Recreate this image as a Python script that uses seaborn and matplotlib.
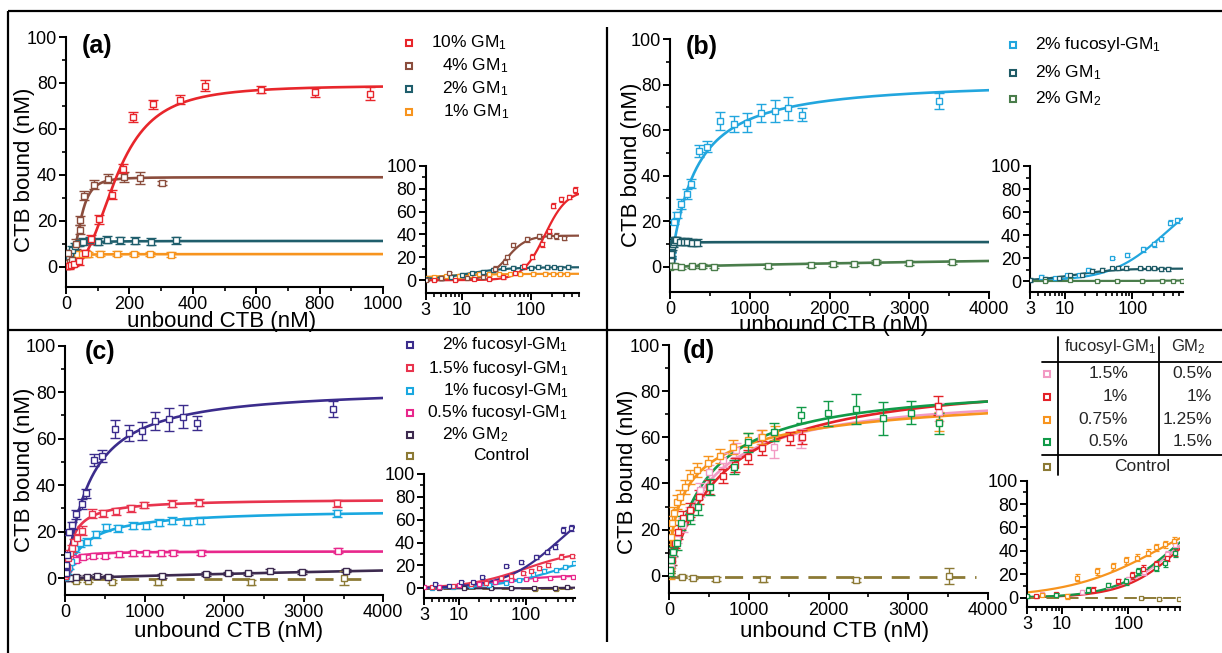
import numpy as np
import matplotlib
matplotlib.use("Agg")
import matplotlib.pyplot as plt
import seaborn as sns
from matplotlib.ticker import LogLocator, NullFormatter, FixedLocator, FixedFormatter

# ---------------- DATA ----------------
# Panel (a): GM1 series  (x = unbound CTB nM, y = CTB bound nM, e = error)
a_x_10 = [4, 8, 15, 25, 40, 60, 80, 104, 146, 181, 212, 274, 361, 438, 616, 786, 958]
a_y_10 = [0.5, 0.3, 0.8, 1.2, 2.5, 6, 12, 20.7, 31.4, 42.8, 65.2, 70.7, 72.8, 78.8, 77.1, 76.0, 75.4]
a_e_10 = [1, 1, 1, 1, 1.5, 1.5, 2, 2, 2, 2, 2, 2, 2, 2.5, 1.5, 2, 3]
a_x_4 = [3, 5, 6.6, 12, 20, 30, 43, 45, 56, 87, 131, 184, 232, 302]
a_y_4 = [0.5, 1.5, 6, 2, 3, 10, 16.2, 20.3, 30.9, 35.8, 38.4, 39.1, 38.7, 36.5]
a_e_4 = [1, 1, 1, 1, 1, 2, 2, 2, 2, 2, 2, 2, 2.5, 1]
a_x_2 = [3, 5, 7, 10, 14, 20, 28, 40, 55, 75, 100, 129, 171, 219, 268, 347]
a_y_2 = [1, 2, 3, 4.5, 6, 7.5, 9, 10.5, 11, 11.5, 11, 11.8, 11.5, 11.3, 11, 11.5]
a_e_2 = [1.5] * 16
a_x_1 = [3, 4, 6, 9, 13, 18, 25, 35, 50, 70, 108, 161, 213, 264, 331]
a_y_1 = [2, 2.5, 3.5, 4, 4.5, 5, 5, 5.5, 5.5, 5.5, 5.8, 5.8, 5.6, 5.6, 5.3]
a_e_1 = [1] * 15
# Hill fit parameters [Bmax, K, n]
a_fit_10 = [79, 160, 2.7]
a_fit_4 = [39, 45, 3.0]
a_fit_2 = [11.3, 12, 1.5]
a_fit_1 = [5.6, 3, 1.0]
a_labels = ["10% GM$_1$", "4% GM$_1$", "2% GM$_1$", "1% GM$_1$"]

# Panel (b)
b_x_fuc = [4.4, 7, 10.7, 16, 22, 50, 84, 142, 209, 267, 359, 468, 626, 802, 969, 1136, 1311, 1482, 1653, 3373]
b_y_fuc = [3.8, 2.3, 5.2, 5.5, 10, 19.7, 22.7, 27.5, 31.9, 36.5, 50.8, 52.7, 64.1, 62.5, 63.3, 67.6, 68.4, 69.5, 66.8, 72.9]
b_e_fuc = [1, 1, 1, 1, 1, 1, 1.5, 2, 2, 2, 2.5, 2.5, 4, 3.5, 4, 4, 5, 5, 3, 3.5]
b_x_gm1 = [3, 5, 8, 12, 18, 25, 35, 50, 62, 80, 130, 170, 210, 270, 342]
b_y_gm1 = [1, 2, 3, 5, 5.5, 9, 10, 11, 11.5, 11.5, 11, 11, 11, 10.5, 10.5]
b_e_gm1 = [1.5] * 15
b_x_gm2 = [5, 12, 30, 60, 138, 272, 405, 547, 1223, 1762, 2037, 2309, 2576, 2993, 3528]
b_y_gm2 = [0, 0.5, 0.3, 0.2, -0.3, 0.1, 0.4, 0.0, 0.4, 0.7, 1.2, 1.0, 2.0, 1.6, 1.9]
b_e_gm2 = [0.8] * 15
b_fit_fuc = [82, 300, 1.1]
b_fit_gm1 = [10.8, 14, 1.4]
b_fit_gm2 = [10, 12000, 1.0]
b_labels = ["2% fucosyl-GM$_1$", "2% GM$_1$", "2% GM$_2$"]

# Panel (c)
c_x_15 = [4, 8, 15, 25, 43, 59, 89, 118, 155, 210, 335, 482, 645, 829, 997, 1340, 1688, 3422]
c_y_15 = [1, 2, 3.5, 5, 8.7, 10.8, 13, 15.5, 17.5, 20.4, 27.7, 27.9, 28.9, 30.1, 31.5, 32, 32.5, 32.2]
c_e_15 = [1, 1, 1, 1, 1.5, 1.5, 1.5, 1.5, 1.5, 2, 2, 1.5, 1.5, 1.5, 1.5, 1.5, 1.5, 1.5]
c_x_10 = [4, 8, 15, 28, 50, 80, 126, 188, 281, 389, 515, 670, 858, 1013, 1185, 1348, 1529, 1696, 3422]
c_y_10 = [0.5, 1, 2, 3, 5, 7, 12.9, 15, 15.6, 19, 21.9, 21.5, 22.5, 22.5, 23.9, 24.8, 24.4, 24.8, 27.9]
c_e_10 = [1, 1, 1, 1, 1, 1, 1.5, 1.5, 1.5, 1.5, 1.5, 1.5, 1.5, 1.5, 1.5, 1.5, 1.5, 1.5, 1.5]
c_x_05 = [3, 5, 10, 20, 35, 60, 100, 138, 230, 356, 502, 678, 858, 1018, 1202, 1361, 1709, 3434]
c_y_05 = [1, 1.5, 2.5, 4, 5.5, 7, 8.5, 7.9, 9.3, 9.6, 9.7, 10.3, 10.7, 10.7, 10.7, 11, 11, 11.9]
c_e_05 = [1] * 18
c_x_gm2 = [5, 12, 30, 60, 134, 272, 406, 544, 1223, 1767, 2044, 2303, 2576, 2977, 3530]
c_y_gm2 = [0.2, 0.5, 0.3, 0.2, 0.4, 0.7, 1.1, 0.7, 1.1, 1.7, 2.1, 2.1, 3.3, 2.6, 3.3]
c_e_gm2 = [0.8] * 15
c_x_ctrl = [138, 285, 586, 1173, 2337, 3509]
c_y_ctrl = [-1, -1, -1.4, -1.7, -1.7, 0]
c_e_ctrl = [0.7, 0.7, 0.7, 1, 1, 3]
c_fit_15 = [34.2, 96, 1.0]
c_fit_10 = [29.7, 250, 1.0]
c_fit_05 = [11.6, 40, 1.0]
c_fit_gm2 = [15, 14000, 1.0]
c_ctrl_level = -0.3
c_labels = ["2% fucosyl-GM$_1$", "1.5% fucosyl-GM$_1$", "1% fucosyl-GM$_1$",
            "0.5% fucosyl-GM$_1$", "2% GM$_2$", "Control"]

# Panel (d): mixtures fucosyl-GM1 / GM2
d_x_pink = [5, 20, 50, 100, 170, 260, 380, 500, 680, 840, 1150, 1320, 1660, 3390]
d_y_pink = [3, 5, 10, 16, 22, 27, 37, 45, 50, 54.5, 60, 55.9, 59.5, 71]
d_e_pink = [1, 1.5, 2, 2, 3, 3, 3, 3, 3, 3, 3, 5, 4, 4]
d_x_red = [4, 8, 29, 71, 113, 168, 260, 377, 498, 678, 825, 992, 1160, 1516, 1663, 3380]
d_y_red = [1, 2.7, 6.8, 14, 19, 24.9, 28.5, 34, 38.6, 43.4, 48, 51.6, 55.2, 59.5, 60.3, 73.7]
d_e_red = [1, 1.5, 2, 2, 3, 3, 3, 3, 3, 3, 3, 3, 3, 3, 3, 4]
d_x_orange = [5, 12, 17, 34, 59, 92, 134, 201, 260, 352, 482, 637, 804, 984, 1160, 1330, 3392]
d_y_orange = [2, 1, 16.9, 22.7, 27, 32, 34.2, 38.6, 42.9, 45.8, 48.7, 51.9, 55.9, 58.8, 60.3, 62, 66.8]
d_e_orange = [1, 2.5, 3, 3, 3, 3, 3, 3, 3, 3, 3, 3, 3, 3, 3, 3, 4]
d_x_green = [3, 8, 25, 50, 92, 142, 260, 356, 511, 812, 984, 1319, 1654, 1998, 2341, 2689, 3036, 3392]
d_y_green = [1, 2.5, 6.8, 10.4, 14, 22.7, 25.6, 29.9, 38.6, 47.3, 57.8, 62.4, 69.7, 70.4, 72.1, 68.2, 70.7, 66]
d_e_green = [1, 1.5, 2, 2, 3, 3, 3, 3.5, 3.5, 3, 4, 4, 3.5, 5.5, 6.5, 7, 5, 4.5]
d_x_ctrl = [155, 293, 586, 1173, 2345, 3518]
d_y_ctrl = [-0.4, -0.9, -1.3, -1.6, -1.9, -0.1]
d_e_ctrl = [0.7, 0.7, 0.8, 1, 1, 3.5]
d_fit_pink = [80.2, 484, 1.0]
d_fit_red = [88, 660, 1.0]
d_fit_orange = [85, 316, 0.62]
d_fit_green = [84.4, 470, 1.0]
d_ctrl_level = -0.4
d_col_fuc = ["1.5%", "1%", "0.75%", "0.5%"]
d_col_gm2 = ["0.5%", "1%", "1.25%", "1.5%"]

# ---------------- STYLE ----------------
sns.set_theme(style="ticks")
plt.rcParams["font.family"] = ["Liberation Sans", "DejaVu Sans"]
plt.rcParams["mathtext.fontset"] = "custom"
plt.rcParams["mathtext.rm"] = "Liberation Sans"
plt.rcParams["mathtext.it"] = "Liberation Sans:italic"
plt.rcParams["mathtext.default"] = "regular"

C = dict(red="#e8262b", brown="#8b4d3d", teal="#1f5e6c", orange="#f7941e",
         blue="#22a6de", dteal="#1f5b66", green2="#4a7d4b",
         indigo="#3b2c8c", rose="#e8344e", cyan="#1aa8e0", magenta="#e8288c",
         purple="#3d2a4f", olive="#8c7a35",
         pink="#f29ac4", dred="#e32228", dorange="#f7941e", dgreen="#119a48")

W, H = 1222, 653
fig = plt.figure(figsize=(W / 100, H / 100), dpi=100)
fig.patch.set_facecolor("white")


def add_ax(l, r, t, b):
    return fig.add_axes([l / W, 1 - b / H, (r - l) / W, (b - t) / H])


def hill(x, p):
    B, K, n = p
    x = np.asarray(x, float)
    return B * x ** n / (K ** n + x ** n)


def style_axis(ax):
    sns.despine(ax=ax)
    for s in ("left", "bottom"):
        ax.spines[s].set_linewidth(1.5)
        ax.spines[s].set_color("black")
    ax.set_facecolor("none")
    ax.tick_params(which="major", direction="out", length=5, width=1.4,
                   labelsize=13, colors="black", pad=1.5)
    ax.tick_params(which="minor", direction="out", length=3, width=1.2, colors="black")
    ax.yaxis.set_major_locator(FixedLocator([0, 20, 40, 60, 80, 100]))
    ax.yaxis.set_minor_locator(FixedLocator([10, 30, 50, 70, 90]))
    ax.set_xlabel("")
    ax.set_ylabel("")


def draw_series(ax, x, y, e, fit, color, xmax, inset=False, log=False, dashed_level=None):
    x = np.asarray(x, float)
    y = np.asarray(y, float)
    e = np.asarray(e, float)
    if log:
        xs = np.geomspace(3, xmax, 300)
    else:
        xs = np.linspace(0, xmax, 600)
    lw = 1.6 if inset else 1.9
    if dashed_level is not None:
        ys = np.full_like(xs, dashed_level)
        sns.lineplot(x=xs, y=ys, ax=ax, color=color, lw=2.0 if not inset else 1.4,
                     linestyle=(0, (6.5, 3.5)), estimator=None, sort=False, zorder=2)
    else:
        sns.lineplot(x=xs, y=hill(xs, fit), ax=ax, color=color, lw=lw,
                     estimator=None, sort=False, zorder=2)
    if inset:
        m = (x >= 3) & (x <= xmax)
        ax.errorbar(x[m], y[m], yerr=e[m], fmt="s", ms=2.6, mfc="white", mec=color, mew=0.9,
                    ecolor=color, elinewidth=1.0, capsize=1.8, capthick=1.0, zorder=3)
    else:
        ax.errorbar(x, y, yerr=e, fmt="s", ms=4.8, mfc="white", mec=color, mew=1.0,
                    ecolor=color, elinewidth=1.0, capsize=3.6, capthick=1.0, zorder=3)


def setup_main(ax, xmax, ymin, xmaj, xmin_ticks):
    ax.set_xlim(0, xmax)
    ax.set_ylim(ymin, 100)
    style_axis(ax)
    ax.xaxis.set_major_locator(FixedLocator(xmaj))
    ax.xaxis.set_minor_locator(FixedLocator(xmin_ticks))


def setup_inset(ax, xmax, ymin):
    ax.set_xscale("log")
    ax.set_xlim(3, xmax)
    ax.set_ylim(ymin, 100)
    style_axis(ax)
    ax.xaxis.set_major_locator(FixedLocator([3, 10, 100]))
    ax.xaxis.set_major_formatter(FixedFormatter(["3", "10", "100"]))
    ax.xaxis.set_minor_locator(LogLocator(base=10, subs=np.arange(2, 10) * 1.0, numticks=20))
    ax.xaxis.set_minor_formatter(NullFormatter())


# ---------------- PANEL (a) ----------------
a_series = [(a_x_10, a_y_10, a_e_10, a_fit_10, C["red"]),
            (a_x_4, a_y_4, a_e_4, a_fit_4, C["brown"]),
            (a_x_2, a_y_2, a_e_2, a_fit_2, C["teal"]),
            (a_x_1, a_y_1, a_e_1, a_fit_1, C["orange"])]
axa = add_ax(66, 383, 37, 286.7)
for x, y, e, f, c in a_series[::-1]:
    draw_series(axa, x, y, e, f, c, 1000)
setup_main(axa, 1000, -8.6, [0, 200, 400, 600, 800, 1000], [100, 300, 500, 700, 900])
axai = add_ax(425.7, 579, 166, 292.7)
for x, y, e, f, c in a_series[::-1]:
    draw_series(axai, x, y, e, f, c, 500, inset=True, log=True)
setup_inset(axai, 500, -11)

# ---------------- PANEL (b) ----------------
b_series = [(b_x_fuc, b_y_fuc, b_e_fuc, b_fit_fuc, C["blue"]),
            (b_x_gm1, b_y_gm1, b_e_gm1, b_fit_gm1, C["dteal"]),
            (b_x_gm2, b_y_gm2, b_e_gm2, b_fit_gm2, C["green2"])]
axb = add_ax(670, 989.3, 39, 291.7)
for x, y, e, f, c in b_series:
    draw_series(axb, x, y, e, f, c, 4000)
setup_main(axb, 4000, -11, [0, 1000, 2000, 3000, 4000], [500, 1500, 2500, 3500])
axbi = add_ax(1030, 1182.7, 166, 291.7)
for x, y, e, f, c in b_series:
    draw_series(axbi, x, y, e, f, c, 560, inset=True, log=True)
setup_inset(axbi, 560, -9.3)

# ---------------- PANEL (c) ----------------
c_series = [(b_x_fuc, b_y_fuc, b_e_fuc, b_fit_fuc, C["indigo"], None),
            (c_x_15, c_y_15, c_e_15, c_fit_15, C["rose"], None),
            (c_x_10, c_y_10, c_e_10, c_fit_10, C["cyan"], None),
            (c_x_05, c_y_05, c_e_05, c_fit_05, C["magenta"], None),
            (c_x_gm2, c_y_gm2, c_e_gm2, c_fit_gm2, C["purple"], None),
            (c_x_ctrl, c_y_ctrl, c_e_ctrl, None, C["olive"], c_ctrl_level)]
axc = add_ax(65, 383.3, 345.7, 595)
for x, y, e, f, c, dl in c_series[::-1]:
    draw_series(axc, x, y, e, f, c, 4000 if dl is None else 3800, dashed_level=dl)
setup_main(axc, 4000, -7.2, [0, 1000, 2000, 3000, 4000], [500, 1500, 2500, 3500])
axci = add_ax(424, 575, 474, 597.7)
for x, y, e, f, c, dl in c_series[::-1]:
    draw_series(axci, x, y, e, f, c, 540, inset=True, log=True, dashed_level=dl)
setup_inset(axci, 540, -8.2)

# ---------------- PANEL (d) ----------------
d_series = [(d_x_pink, d_y_pink, d_e_pink, d_fit_pink, C["pink"], None),
            (d_x_red, d_y_red, d_e_red, d_fit_red, C["dred"], None),
            (d_x_orange, d_y_orange, d_e_orange, d_fit_orange, C["dorange"], None),
            (d_x_green, d_y_green, d_e_green, d_fit_green, C["dgreen"], None),
            (d_x_ctrl, d_y_ctrl, d_e_ctrl, None, C["olive"], d_ctrl_level)]
axd = add_ax(669.3, 987.7, 345, 593.3)
for x, y, e, f, c, dl in d_series:
    draw_series(axd, x, y, e, f, c, 4000 if dl is None else 3850, dashed_level=dl)
setup_main(axd, 4000, -7.6, [0, 1000, 2000, 3000, 4000], [500, 1500, 2500, 3500])
axdi = add_ax(1027.3, 1180, 480.7, 607)
for x, y, e, f, c, dl in d_series:
    draw_series(axdi, x, y, e, f, c, 600, inset=True, log=True, dashed_level=dl)
setup_inset(axdi, 600, -8)

# ---------------- OVERLAY: frame, labels, legends ----------------
ov = fig.add_axes([0, 0, 1, 1])
ov.set_xlim(0, W)
ov.set_ylim(H, 0)
ov.axis("off")
ov.patch.set_alpha(0)
k = dict(color="black", lw=1.6, solid_capstyle="butt")
ov.plot([8, W], [11, 11], **k)
ov.plot([8, 8], [11, H], **k)
ov.plot([8, W], [330, 330], **k)
ov.plot([607, 607], [27, 642], **k)

lab = dict(fontsize=16, color="black", ha="center", va="center")
for (xl, yl) in [(25, 170), (631, 165), (25, 470), (628, 472)]:
    ov.text(xl, yl, "CTB bound (nM)", rotation=90, **lab)
for (xl, yl) in [(222, 322), (834, 326), (229, 632), (835, 632)]:
    ov.text(xl, yl, "unbound CTB (nM)", **lab)

for (xl, yl, t) in [(82, 46, "(a)"), (686, 47, "(b)"), (85, 352, "(c)"), (683, 351, "(d)")]:
    ov.text(xl, yl, t, fontsize=18, fontweight="bold", ha="left", va="center", color="black")

sq = dict(marker="s", ms=5, mfc="white", mew=1.5, ls="none")
leg = dict(fontsize=12.5, ha="left", va="center", color="black")
# legend (a)
a_rows = [43, 66, 88.5, 112]
a_tx = [430.7, 441.7, 441.7, 443.3]
for (s, ry, tx, lb) in zip(a_series, a_rows, a_tx, a_labels):
    ov.plot([409], [ry], mec=s[4], **sq)
    ov.text(tx, ry, lb, **leg)
# legend (b)
b_rows = [45, 72.5, 99]
for (s, ry, lb) in zip(b_series, b_rows, b_labels):
    ov.plot([1012.7], [ry], mec=s[4], **sq)
    ov.text(1035, ry, lb, **leg)
# legend (c)
c_rows = [345, 368, 391, 413, 435, 456]
c_tx = [441.7, 427.7, 443.3, 426.7, 441.7, 473.3]
for (s, ry, tx, lb) in zip(c_series, c_rows, c_tx, c_labels):
    ov.plot([410], [ry], mec=s[4], **sq)
    ov.text(tx, ry, lb, **leg)
# table legend (d)
tk = dict(color="black", lw=1.3)
ov.plot([1058, 1058], [337, 475], **tk)
ov.plot([1159, 1159], [337, 455], **tk)
ov.plot([1042, W], [362, 362], **tk)
ov.plot([1042, W], [455, 455], **tk)
ov.text(1110, 347, "fucosyl-GM$_1$", fontsize=12, ha="center", va="center")
ov.text(1188, 347, "GM$_2$", fontsize=12, ha="center", va="center")
d_rows = [373.5, 396.5, 419.5, 442]
for (s, ry, v1, v2) in zip(d_series[:4], d_rows, d_col_fuc, d_col_gm2):
    ov.plot([1047], [ry], mec=s[4], **sq)
    ov.text(1128, ry, v1, fontsize=12.5, ha="right", va="center")
    ov.text(1212, ry, v2, fontsize=12.5, ha="right", va="center")
ov.plot([1047], [466.7], mec=C["olive"], **sq)
ov.text(1142, 466.7, "Control", fontsize=12.5, ha="center", va="center")

fig.savefig("out.png", dpi=100, facecolor="white")
